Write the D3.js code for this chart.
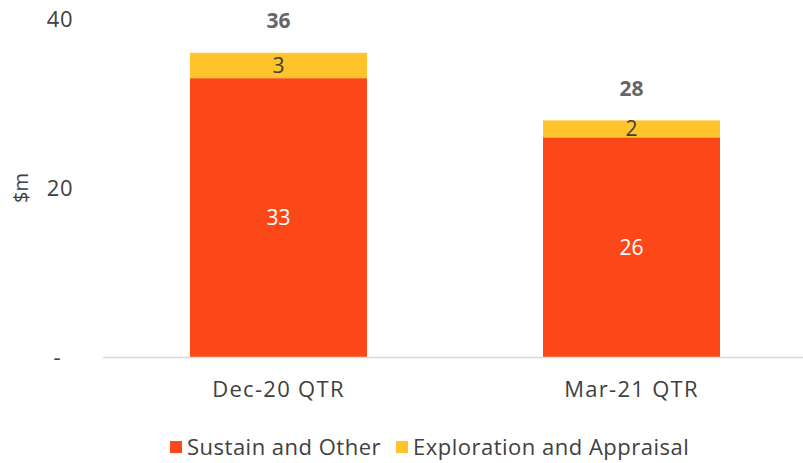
<!DOCTYPE html>
<html>
<head>
<meta charset="utf-8">
<script src="https://cdn.jsdelivr.net/npm/d3@7"></script>
<style>
  body { margin: 0; background: #fff; }
  svg { font-family: "Open Sans", "Roboto", sans-serif; }
</style>
</head>
<body>
<div id="chart"></div>
<script>
// chart data
var categories = ["Dec-20 QTR", "Mar-21 QTR"];
var sustain = [33, 26];
var exploration = [3, 2];
var totals = [36, 28];
var seriesNames = ["Sustain and Other", "Exploration and Appraisal"];
var yTicks = [0, 20, 40];

var colors = ["#FC4819", "#FFC42C"];

var svg = d3.select("#chart").append("svg")
  .attr("width", 803)
  .attr("height", 463);

var margin = { top: 19, right: 0, bottom: 106, left: 103 };
var width = 803 - margin.left - margin.right;
var height = 463 - margin.top - margin.bottom;

var g = svg.append("g")
  .attr("transform", "translate(" + margin.left + "," + margin.top + ")");

var x = d3.scaleBand().domain(categories).range([0, 704]).paddingInner(0.4986).paddingOuter(0.2464);
var y = d3.scaleLinear().domain([0, 40]).range([height, 0]);

var data = categories.map(function (c, i) {
  return { cat: c, s: sustain[i], e: exploration[i], t: totals[i] };
});

// y tick labels (no axis line)
g.selectAll(".ytick")
  .data(yTicks)
  .enter()
  .append("text")
  .attr("x", function (d) { return d === 0 ? -42 : -30; })
  .attr("y", function (d) { return y(d); })
  .attr("dy", "0.35em")
  .attr("text-anchor", "end")
  .attr("font-size", "22px")
  .attr("letter-spacing", "0.5px")
  .attr("fill", "#404040")
  .text(function (d) { return d === 0 ? "-" : d; });

// y title
svg.append("text")
  .attr("transform", "translate(28," + (margin.top + y(20)) + ") rotate(-90)")
  .attr("text-anchor", "middle")
  .attr("font-size", "20px")
  .attr("fill", "#404040")
  .text("$m");

// bars
g.selectAll(".bar-s")
  .data(data)
  .enter()
  .append("rect")
  .attr("x", function (d) { return x(d.cat); })
  .attr("y", function (d) { return y(d.s); })
  .attr("width", x.bandwidth())
  .attr("height", function (d) { return height - y(d.s); })
  .attr("fill", colors[0]);

g.selectAll(".bar-e")
  .data(data)
  .enter()
  .append("rect")
  .attr("x", function (d) { return x(d.cat); })
  .attr("y", function (d) { return y(d.s + d.e); })
  .attr("width", x.bandwidth())
  .attr("height", function (d) { return y(d.s) - y(d.s + d.e); })
  .attr("fill", colors[1]);

// x axis line
g.append("line")
  .attr("x1", 0).attr("x2", width)
  .attr("y1", height + 0.5).attr("y2", height + 0.5)
  .attr("stroke", "#d9d9d9")
  .attr("stroke-width", 1.5);

// x labels
g.selectAll(".xlab")
  .data(categories)
  .enter()
  .append("text")
  .attr("x", function (d) { return x(d) + x.bandwidth() / 2; })
  .attr("y", height + 40)
  .attr("text-anchor", "middle")
  .attr("font-size", "22px")
  .attr("letter-spacing", "1.3px")
  .attr("fill", "#404040")
  .text(function (d) { return d; });

// value labels
g.selectAll(".lab-s")
  .data(data)
  .enter()
  .append("text")
  .attr("x", function (d) { return x(d.cat) + x.bandwidth() / 2; })
  .attr("y", function (d) { return y(d.s / 2); })
  .attr("dy", "0.35em")
  .attr("text-anchor", "middle")
  .attr("font-size", "21px")
  .attr("fill", "#ffffff")
  .text(function (d) { return d.s; });

g.selectAll(".lab-e")
  .data(data)
  .enter()
  .append("text")
  .attr("x", function (d) { return x(d.cat) + x.bandwidth() / 2; })
  .attr("y", function (d) { return y(d.s + d.e / 2); })
  .attr("dy", "0.35em")
  .attr("text-anchor", "middle")
  .attr("font-size", "21px")
  .attr("fill", "#404040")
  .text(function (d) { return d.e; });

g.selectAll(".lab-t")
  .data(data)
  .enter()
  .append("text")
  .attr("x", function (d) { return x(d.cat) + x.bandwidth() / 2; })
  .attr("y", function (d) { return y(d.t) - 32; })
  .attr("dy", "0.35em")
  .attr("text-anchor", "middle")
  .attr("font-size", "21px")
  .attr("font-weight", "bold")
  .attr("fill", "#666666")
  .text(function (d) { return d.t; });

// legend
var legendX = [170, 396];
var leg = svg.selectAll(".legend")
  .data(seriesNames)
  .enter()
  .append("g")
  .attr("transform", function (d, i) { return "translate(" + legendX[i] + ",447)"; });

leg.append("rect")
  .attr("x", 0).attr("y", -6)
  .attr("width", 12).attr("height", 12)
  .attr("fill", function (d, i) { return colors[i]; });

leg.append("text")
  .attr("x", 17)
  .attr("y", 0)
  .attr("dy", "0.35em")
  .attr("font-size", "22px")
  .attr("letter-spacing", "0.5px")
  .attr("fill", "#404040")
  .text(function (d) { return d; });
</script>
</body>
</html>
